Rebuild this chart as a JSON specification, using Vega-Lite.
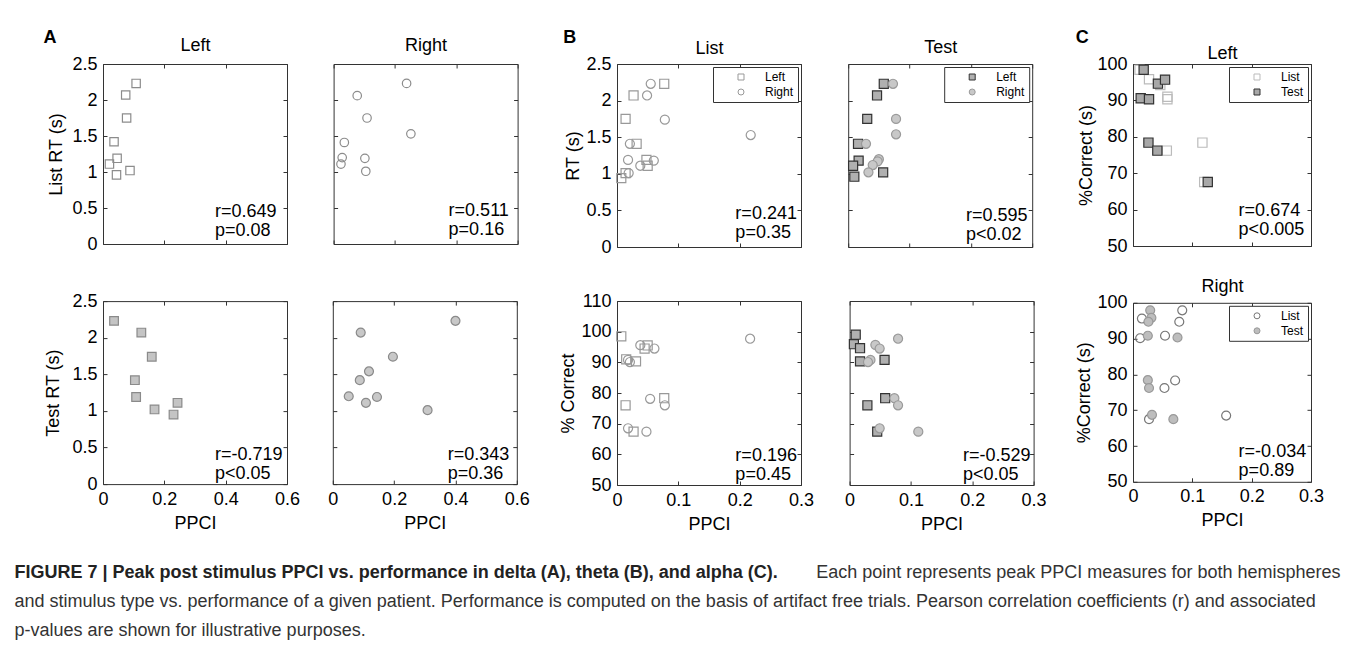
{
  "$schema": "https://vega.github.io/schema/vega-lite/v6.json",
  "background": "white",
  "padding": {"left": 14, "top": 28, "right": 5, "bottom": 2},
  "config": {
    "font": "Liberation Sans",
    "view": {"stroke": "#333", "strokeWidth": 1},
    "axis": {"domain": false, "grid": false, "tickSize": -4, "tickColor": "#333", "tickWidth": 1, "labelFontSize": 18, "labelColor": "#000", "labelFlush": false, "labelOverlap": false, "labelBound": false, "labelPadding": 10, "titleFontSize": 18, "titleFontWeight": "normal", "titleColor": "#000"},
    "title": {"fontSize": 18, "fontWeight": "bold", "color": "#000", "anchor": "start", "frame": "bounds"},
    "legend": {"orient": "top-right", "offset": 3, "strokeColor": "#333", "fillColor": "white", "padding": 4, "rowPadding": 3, "symbolOffset": 18, "labelOffset": 18, "symbolSize": 36, "symbolStrokeWidth": 1, "labelFontSize": 12, "labelColor": "#000"}
  },
  "datasets": {
    "delta": [
      {"cond": "List", "hemi": "Left", "ppci": 0.108, "value": 2.23},
      {"cond": "List", "hemi": "Left", "ppci": 0.074, "value": 2.07},
      {"cond": "List", "hemi": "Left", "ppci": 0.077, "value": 1.75},
      {"cond": "List", "hemi": "Left", "ppci": 0.036, "value": 1.42},
      {"cond": "List", "hemi": "Left", "ppci": 0.046, "value": 1.19},
      {"cond": "List", "hemi": "Left", "ppci": 0.021, "value": 1.11},
      {"cond": "List", "hemi": "Left", "ppci": 0.044, "value": 0.96},
      {"cond": "List", "hemi": "Left", "ppci": 0.088, "value": 1.02},
      {"cond": "List", "hemi": "Right", "ppci": 0.238, "value": 2.23},
      {"cond": "List", "hemi": "Right", "ppci": 0.077, "value": 2.06},
      {"cond": "List", "hemi": "Right", "ppci": 0.109, "value": 1.75},
      {"cond": "List", "hemi": "Right", "ppci": 0.252, "value": 1.53},
      {"cond": "List", "hemi": "Right", "ppci": 0.035, "value": 1.41},
      {"cond": "List", "hemi": "Right", "ppci": 0.028, "value": 1.20},
      {"cond": "List", "hemi": "Right", "ppci": 0.024, "value": 1.11},
      {"cond": "List", "hemi": "Right", "ppci": 0.102, "value": 1.19},
      {"cond": "List", "hemi": "Right", "ppci": 0.105, "value": 1.01},
      {"cond": "Test", "hemi": "Left", "ppci": 0.036, "value": 2.23},
      {"cond": "Test", "hemi": "Left", "ppci": 0.125, "value": 2.07},
      {"cond": "Test", "hemi": "Left", "ppci": 0.159, "value": 1.74},
      {"cond": "Test", "hemi": "Left", "ppci": 0.104, "value": 1.42},
      {"cond": "Test", "hemi": "Left", "ppci": 0.108, "value": 1.19},
      {"cond": "Test", "hemi": "Left", "ppci": 0.168, "value": 1.02},
      {"cond": "Test", "hemi": "Left", "ppci": 0.230, "value": 0.95},
      {"cond": "Test", "hemi": "Left", "ppci": 0.243, "value": 1.11},
      {"cond": "Test", "hemi": "Right", "ppci": 0.400, "value": 2.23},
      {"cond": "Test", "hemi": "Right", "ppci": 0.091, "value": 2.07},
      {"cond": "Test", "hemi": "Right", "ppci": 0.196, "value": 1.74},
      {"cond": "Test", "hemi": "Right", "ppci": 0.118, "value": 1.54},
      {"cond": "Test", "hemi": "Right", "ppci": 0.088, "value": 1.42},
      {"cond": "Test", "hemi": "Right", "ppci": 0.052, "value": 1.20},
      {"cond": "Test", "hemi": "Right", "ppci": 0.144, "value": 1.19},
      {"cond": "Test", "hemi": "Right", "ppci": 0.108, "value": 1.11},
      {"cond": "Test", "hemi": "Right", "ppci": 0.309, "value": 1.01}
    ],
    "thetaRT": [
      {"cond": "List", "hemi": "Left", "ppci": 0.077, "value": 2.23},
      {"cond": "List", "hemi": "Left", "ppci": 0.027, "value": 2.07},
      {"cond": "List", "hemi": "Left", "ppci": 0.014, "value": 1.75},
      {"cond": "List", "hemi": "Left", "ppci": 0.032, "value": 1.41},
      {"cond": "List", "hemi": "Left", "ppci": 0.048, "value": 1.19},
      {"cond": "List", "hemi": "Left", "ppci": 0.050, "value": 1.11},
      {"cond": "List", "hemi": "Left", "ppci": 0.007, "value": 0.94},
      {"cond": "List", "hemi": "Left", "ppci": 0.014, "value": 1.01},
      {"cond": "List", "hemi": "Right", "ppci": 0.055, "value": 2.23},
      {"cond": "List", "hemi": "Right", "ppci": 0.049, "value": 2.07},
      {"cond": "List", "hemi": "Right", "ppci": 0.078, "value": 1.74},
      {"cond": "List", "hemi": "Right", "ppci": 0.218, "value": 1.53},
      {"cond": "List", "hemi": "Right", "ppci": 0.021, "value": 1.41},
      {"cond": "List", "hemi": "Right", "ppci": 0.018, "value": 1.19},
      {"cond": "List", "hemi": "Right", "ppci": 0.060, "value": 1.18},
      {"cond": "List", "hemi": "Right", "ppci": 0.038, "value": 1.11},
      {"cond": "List", "hemi": "Right", "ppci": 0.019, "value": 1.01},
      {"cond": "Test", "hemi": "Left", "ppci": 0.058, "value": 2.23},
      {"cond": "Test", "hemi": "Left", "ppci": 0.047, "value": 2.07},
      {"cond": "Test", "hemi": "Left", "ppci": 0.031, "value": 1.75},
      {"cond": "Test", "hemi": "Left", "ppci": 0.016, "value": 1.41},
      {"cond": "Test", "hemi": "Left", "ppci": 0.017, "value": 1.18},
      {"cond": "Test", "hemi": "Left", "ppci": 0.008, "value": 1.11},
      {"cond": "Test", "hemi": "Left", "ppci": 0.010, "value": 0.96},
      {"cond": "Test", "hemi": "Left", "ppci": 0.057, "value": 1.02},
      {"cond": "Test", "hemi": "Right", "ppci": 0.073, "value": 2.23},
      {"cond": "Test", "hemi": "Right", "ppci": 0.078, "value": 1.75},
      {"cond": "Test", "hemi": "Right", "ppci": 0.078, "value": 1.54},
      {"cond": "Test", "hemi": "Right", "ppci": 0.029, "value": 1.41},
      {"cond": "Test", "hemi": "Right", "ppci": 0.050, "value": 1.20},
      {"cond": "Test", "hemi": "Right", "ppci": 0.048, "value": 1.17},
      {"cond": "Test", "hemi": "Right", "ppci": 0.040, "value": 1.12},
      {"cond": "Test", "hemi": "Right", "ppci": 0.033, "value": 1.02}
    ],
    "thetaCorrect": [
      {"cond": "List", "hemi": "Left", "ppci": 0.007, "value": 98.5},
      {"cond": "List", "hemi": "Left", "ppci": 0.050, "value": 95.5},
      {"cond": "List", "hemi": "Left", "ppci": 0.045, "value": 94.5},
      {"cond": "List", "hemi": "Left", "ppci": 0.015, "value": 91.0},
      {"cond": "List", "hemi": "Left", "ppci": 0.031, "value": 90.3},
      {"cond": "List", "hemi": "Left", "ppci": 0.077, "value": 78.3},
      {"cond": "List", "hemi": "Left", "ppci": 0.014, "value": 76.0},
      {"cond": "List", "hemi": "Left", "ppci": 0.027, "value": 67.4},
      {"cond": "List", "hemi": "Right", "ppci": 0.217, "value": 97.7},
      {"cond": "List", "hemi": "Right", "ppci": 0.038, "value": 95.6},
      {"cond": "List", "hemi": "Right", "ppci": 0.061, "value": 94.5},
      {"cond": "List", "hemi": "Right", "ppci": 0.018, "value": 90.8},
      {"cond": "List", "hemi": "Right", "ppci": 0.021, "value": 90.1},
      {"cond": "List", "hemi": "Right", "ppci": 0.054, "value": 78.1},
      {"cond": "List", "hemi": "Right", "ppci": 0.078, "value": 76.0},
      {"cond": "List", "hemi": "Right", "ppci": 0.018, "value": 68.5},
      {"cond": "List", "hemi": "Right", "ppci": 0.048, "value": 67.4},
      {"cond": "Test", "hemi": "Left", "ppci": 0.010, "value": 99.0},
      {"cond": "Test", "hemi": "Left", "ppci": 0.007, "value": 95.9},
      {"cond": "Test", "hemi": "Left", "ppci": 0.017, "value": 94.6},
      {"cond": "Test", "hemi": "Left", "ppci": 0.017, "value": 90.3},
      {"cond": "Test", "hemi": "Left", "ppci": 0.057, "value": 90.8},
      {"cond": "Test", "hemi": "Left", "ppci": 0.058, "value": 78.3},
      {"cond": "Test", "hemi": "Left", "ppci": 0.029, "value": 76.0},
      {"cond": "Test", "hemi": "Left", "ppci": 0.045, "value": 67.4},
      {"cond": "Test", "hemi": "Right", "ppci": 0.079, "value": 97.7},
      {"cond": "Test", "hemi": "Right", "ppci": 0.042, "value": 95.7},
      {"cond": "Test", "hemi": "Right", "ppci": 0.049, "value": 94.5},
      {"cond": "Test", "hemi": "Right", "ppci": 0.034, "value": 90.8},
      {"cond": "Test", "hemi": "Right", "ppci": 0.030, "value": 90.1},
      {"cond": "Test", "hemi": "Right", "ppci": 0.073, "value": 78.3},
      {"cond": "Test", "hemi": "Right", "ppci": 0.079, "value": 76.0},
      {"cond": "Test", "hemi": "Right", "ppci": 0.049, "value": 68.5},
      {"cond": "Test", "hemi": "Right", "ppci": 0.112, "value": 67.4}
    ],
    "alpha": [
      {"cond": "List", "hemi": "Left", "ppci": 0.011, "value": 98.4},
      {"cond": "List", "hemi": "Left", "ppci": 0.027, "value": 95.8},
      {"cond": "List", "hemi": "Left", "ppci": 0.046, "value": 94.2},
      {"cond": "List", "hemi": "Left", "ppci": 0.058, "value": 91.0},
      {"cond": "List", "hemi": "Left", "ppci": 0.058, "value": 90.3},
      {"cond": "List", "hemi": "Left", "ppci": 0.057, "value": 76.2},
      {"cond": "List", "hemi": "Left", "ppci": 0.117, "value": 78.4},
      {"cond": "List", "hemi": "Left", "ppci": 0.120, "value": 67.6},
      {"cond": "Test", "hemi": "Left", "ppci": 0.018, "value": 98.4},
      {"cond": "Test", "hemi": "Left", "ppci": 0.042, "value": 94.6},
      {"cond": "Test", "hemi": "Left", "ppci": 0.054, "value": 95.7},
      {"cond": "Test", "hemi": "Left", "ppci": 0.013, "value": 90.6},
      {"cond": "Test", "hemi": "Left", "ppci": 0.027, "value": 90.3},
      {"cond": "Test", "hemi": "Left", "ppci": 0.026, "value": 78.4},
      {"cond": "Test", "hemi": "Left", "ppci": 0.041, "value": 76.2},
      {"cond": "Test", "hemi": "Left", "ppci": 0.126, "value": 67.6},
      {"cond": "List", "hemi": "Right", "ppci": 0.015, "value": 95.6},
      {"cond": "List", "hemi": "Right", "ppci": 0.012, "value": 90.1},
      {"cond": "List", "hemi": "Right", "ppci": 0.083, "value": 97.9},
      {"cond": "List", "hemi": "Right", "ppci": 0.078, "value": 94.7},
      {"cond": "List", "hemi": "Right", "ppci": 0.054, "value": 90.8},
      {"cond": "List", "hemi": "Right", "ppci": 0.071, "value": 78.3},
      {"cond": "List", "hemi": "Right", "ppci": 0.053, "value": 76.2},
      {"cond": "List", "hemi": "Right", "ppci": 0.157, "value": 68.5},
      {"cond": "List", "hemi": "Right", "ppci": 0.027, "value": 67.5},
      {"cond": "Test", "hemi": "Right", "ppci": 0.029, "value": 97.9},
      {"cond": "Test", "hemi": "Right", "ppci": 0.031, "value": 95.8},
      {"cond": "Test", "hemi": "Right", "ppci": 0.026, "value": 94.7},
      {"cond": "Test", "hemi": "Right", "ppci": 0.025, "value": 90.8},
      {"cond": "Test", "hemi": "Right", "ppci": 0.075, "value": 90.3},
      {"cond": "Test", "hemi": "Right", "ppci": 0.025, "value": 78.4},
      {"cond": "Test", "hemi": "Right", "ppci": 0.027, "value": 76.2},
      {"cond": "Test", "hemi": "Right", "ppci": 0.032, "value": 68.7},
      {"cond": "Test", "hemi": "Right", "ppci": 0.068, "value": 67.5}
    ],
    "caption": [
      {"line": 1, "part": "heading", "text": "FIGURE 7 | Peak post stimulus PPCI vs. performance in delta (A), theta (B), and alpha (C)."},
      {"line": 1, "part": "continuation", "text": "Each point represents peak PPCI measures for both hemispheres"},
      {"line": 2, "part": "body", "text": "and stimulus type vs. performance of a given patient. Performance is computed on the basis of artifact free trials. Pearson correlation coefficients (r) and associated"},
      {"line": 3, "part": "body", "text": "p-values are shown for illustrative purposes."}
    ]
  },
  "resolve": {"scale": {"shape": "independent", "fill": "independent", "stroke": "independent"}},
  "bounds": "flush",
  "spacing": 509,
  "vconcat": [
    {
      "resolve": {"scale": {"shape": "independent", "fill": "independent", "stroke": "independent"}},
      "spacing": 28,
      "hconcat": [
        {
          "spacing": 37.1,
          "vconcat": [
            {
              "spacing": 44.6,
              "hconcat": [
                {
                  "width": 184, "height": 180,
                  "title": {"text": "A", "offset": -10.5, "dx": -4},
                  "layer": [
                    {"data": {"name": "delta"}, "transform": [{"filter": "datum.cond === 'List' && datum.hemi === 'Left'"}],
                     "mark": {"type": "point", "shape": "square", "filled": false, "stroke": "#8c8c8c", "strokeWidth": 1.2, "size": 70, "opacity": 1},
                     "encoding": {
                       "x": {"field": "ppci", "type": "quantitative", "scale": {"domain": [0, 0.6], "nice": false, "zero": false}, "axis": {"values": [0, 0.2, 0.4, 0.6], "labels": false, "title": null, "minExtent": 0, "maxExtent": 0}},
                       "y": {"field": "value", "type": "quantitative", "scale": {"domain": [0, 2.5], "nice": false, "zero": false}, "axis": {"values": [0, 0.5, 1, 1.5, 2, 2.5], "format": "~f", "title": "List RT (s)", "minExtent": 31, "maxExtent": 31, "titlePadding": 6.5}}
                     }},
                    {"data": {"values": [{"stat": "r=0.649\np=0.08"}]},
                     "mark": {"type": "text", "align": "left", "baseline": "top", "fontSize": 18, "lineHeight": 19, "lineBreak": "\n", "color": "#000"},
                     "encoding": {
                       "x": {"datum": 0.365, "type": "quantitative", "scale": {"domain": [0, 0.6], "nice": false, "zero": false}, "axis": {"orient": "top", "values": [0, 0.2, 0.4, 0.6], "labels": false, "title": "Left", "titlePadding": 9.8, "minExtent": 0, "maxExtent": 0}},
                       "y": {"datum": 0.576, "type": "quantitative", "scale": {"domain": [0, 2.5], "nice": false, "zero": false}, "axis": {"orient": "right", "values": [0, 0.5, 1, 1.5, 2, 2.5], "labels": false, "title": null, "minExtent": 0, "maxExtent": 0}},
                       "text": {"field": "stat"}
                     }}
                  ],
                  "resolve": {"axis": {"x": "independent", "y": "independent"}}
                },
                {
                  "width": 184, "height": 180,
                  "layer": [
                    {"data": {"name": "delta"}, "transform": [{"filter": "datum.cond === 'List' && datum.hemi === 'Right'"}],
                     "mark": {"type": "point", "shape": "circle", "filled": false, "stroke": "#8c8c8c", "strokeWidth": 1.2, "size": 72, "opacity": 1},
                     "encoding": {
                       "x": {"field": "ppci", "type": "quantitative", "scale": {"domain": [0, 0.6], "nice": false, "zero": false}, "axis": {"values": [0, 0.2, 0.4, 0.6], "labels": false, "title": null, "minExtent": 0, "maxExtent": 0}},
                       "y": {"field": "value", "type": "quantitative", "scale": {"domain": [0, 2.5], "nice": false, "zero": false}, "axis": {"values": [0, 0.5, 1, 1.5, 2, 2.5], "labels": false, "title": null, "minExtent": 0, "maxExtent": 0}}
                     }},
                    {"data": {"values": [{"stat": "r=0.511\np=0.16"}]},
                     "mark": {"type": "text", "align": "left", "baseline": "top", "fontSize": 18, "lineHeight": 19, "lineBreak": "\n", "color": "#000"},
                     "encoding": {
                       "x": {"datum": 0.375, "type": "quantitative", "scale": {"domain": [0, 0.6], "nice": false, "zero": false}, "axis": {"orient": "top", "values": [0, 0.2, 0.4, 0.6], "labels": false, "title": "Right", "titlePadding": 9.8, "minExtent": 0, "maxExtent": 0}},
                       "y": {"datum": 0.59, "type": "quantitative", "scale": {"domain": [0, 2.5], "nice": false, "zero": false}, "axis": {"orient": "right", "values": [0, 0.5, 1, 1.5, 2, 2.5], "labels": false, "title": null, "minExtent": 0, "maxExtent": 0}},
                       "text": {"field": "stat"}
                     }}
                  ],
                  "resolve": {"axis": {"x": "independent", "y": "independent"}}
                }
              ]
            },
            {
              "spacing": 25.8,
              "hconcat": [
                {
                  "width": 184, "height": 183,
                  "layer": [
                    {"data": {"name": "delta"}, "transform": [{"filter": "datum.cond === 'Test' && datum.hemi === 'Left'"}],
                     "mark": {"type": "point", "shape": "square", "filled": true, "fill": "#c4c4c4", "stroke": "#8a8a8a", "strokeWidth": 1.2, "size": 75, "opacity": 1},
                     "encoding": {
                       "x": {"field": "ppci", "type": "quantitative", "scale": {"domain": [0, 0.6], "nice": false, "zero": false}, "axis": {"values": [0, 0.2, 0.4, 0.6], "format": "~f", "title": "PPCI", "titlePadding": 6}},
                       "y": {"field": "value", "type": "quantitative", "scale": {"domain": [0, 2.5], "nice": false, "zero": false}, "axis": {"values": [0, 0.5, 1, 1.5, 2, 2.5], "format": "~f", "title": "Test RT (s)", "minExtent": 31, "maxExtent": 31, "titlePadding": 9.2}}
                     }},
                    {"data": {"values": [{"stat": "r=-0.719\np<0.05"}]},
                     "mark": {"type": "text", "align": "left", "baseline": "top", "fontSize": 18, "lineHeight": 19, "lineBreak": "\n", "color": "#000"},
                     "encoding": {
                       "x": {"datum": 0.365, "type": "quantitative", "scale": {"domain": [0, 0.6], "nice": false, "zero": false}, "axis": {"orient": "top", "values": [0, 0.2, 0.4, 0.6], "labels": false, "title": null, "minExtent": 0, "maxExtent": 0}},
                       "y": {"datum": 0.516, "type": "quantitative", "scale": {"domain": [0, 2.5], "nice": false, "zero": false}, "axis": {"orient": "right", "values": [0, 0.5, 1, 1.5, 2, 2.5], "labels": false, "title": null, "minExtent": 0, "maxExtent": 0}},
                       "text": {"field": "stat"}
                     }}
                  ],
                  "resolve": {"axis": {"x": "independent", "y": "independent"}}
                },
                {
                  "width": 184, "height": 183,
                  "layer": [
                    {"data": {"name": "delta"}, "transform": [{"filter": "datum.cond === 'Test' && datum.hemi === 'Right'"}],
                     "mark": {"type": "point", "shape": "circle", "filled": true, "fill": "#c8c8c8", "stroke": "#8a8a8a", "strokeWidth": 1.2, "size": 80, "opacity": 1},
                     "encoding": {
                       "x": {"field": "ppci", "type": "quantitative", "scale": {"domain": [0, 0.6], "nice": false, "zero": false}, "axis": {"values": [0, 0.2, 0.4, 0.6], "format": "~f", "title": "PPCI", "titlePadding": 6}},
                       "y": {"field": "value", "type": "quantitative", "scale": {"domain": [0, 2.5], "nice": false, "zero": false}, "axis": {"values": [0, 0.5, 1, 1.5, 2, 2.5], "labels": false, "title": null, "minExtent": 0, "maxExtent": 0}}
                     }},
                    {"data": {"values": [{"stat": "r=0.343\np=0.36"}]},
                     "mark": {"type": "text", "align": "left", "baseline": "top", "fontSize": 18, "lineHeight": 19, "lineBreak": "\n", "color": "#000"},
                     "encoding": {
                       "x": {"datum": 0.375, "type": "quantitative", "scale": {"domain": [0, 0.6], "nice": false, "zero": false}, "axis": {"orient": "top", "values": [0, 0.2, 0.4, 0.6], "labels": false, "title": null, "minExtent": 0, "maxExtent": 0}},
                       "y": {"datum": 0.527, "type": "quantitative", "scale": {"domain": [0, 2.5], "nice": false, "zero": false}, "axis": {"orient": "right", "values": [0, 0.5, 1, 1.5, 2, 2.5], "labels": false, "title": null, "minExtent": 0, "maxExtent": 0}},
                       "text": {"field": "stat"}
                     }}
                  ],
                  "resolve": {"axis": {"x": "independent", "y": "independent"}}
                }
              ]
            }
          ]
        },
        {
          "spacing": 34,
          "resolve": {"scale": {"shape": "independent", "fill": "independent", "stroke": "independent"}},
          "vconcat": [
            {
              "spacing": 43.2,
              "resolve": {"scale": {"shape": "independent", "fill": "independent", "stroke": "independent"}},
              "hconcat": [
                {
                  "width": 184, "height": 183,
                  "title": {"text": "B", "offset": -6.8, "dx": -1},
                  "layer": [
                    {"data": {"name": "thetaRT"}, "transform": [{"filter": "datum.cond === 'List'"}],
                     "mark": {"type": "point", "strokeWidth": 1.2, "size": 82, "opacity": 1},
                     "encoding": {
                       "x": {"field": "ppci", "type": "quantitative", "scale": {"domain": [0, 0.3], "nice": false, "zero": false}, "axis": {"values": [0, 0.1, 0.2, 0.3], "labels": false, "title": null, "minExtent": 0, "maxExtent": 0}},
                       "y": {"field": "value", "type": "quantitative", "scale": {"domain": [0, 2.5], "nice": false, "zero": false}, "axis": {"values": [0, 0.5, 1, 1.5, 2, 2.5], "format": "~f", "title": "RT (s)", "minExtent": 30, "maxExtent": 30, "titlePadding": 4.7}},
                       "shape": {"field": "hemi", "type": "nominal", "scale": {"domain": ["Left", "Right"], "range": ["square", "circle"]}, "legend": {"title": null}},
                       "fill": {"field": "hemi", "type": "nominal", "scale": {"domain": ["Left", "Right"], "range": ["#ffffff00", "#ffffff00"]}, "legend": {"title": null}},
                       "stroke": {"field": "hemi", "type": "nominal", "scale": {"domain": ["Left", "Right"], "range": ["#999999", "#999999"]}, "legend": {"title": null}}
                     }},
                    {"data": {"values": [{"stat": "r=0.241\np=0.35"}]},
                     "mark": {"type": "text", "align": "left", "baseline": "top", "fontSize": 18, "lineHeight": 19, "lineBreak": "\n", "color": "#000"},
                     "encoding": {
                       "x": {"datum": 0.193, "type": "quantitative", "scale": {"domain": [0, 0.3], "nice": false, "zero": false}, "axis": {"orient": "top", "values": [0, 0.1, 0.2, 0.3], "labels": false, "title": "List", "titlePadding": 6.1, "minExtent": 0, "maxExtent": 0}},
                       "y": {"datum": 0.575, "type": "quantitative", "scale": {"domain": [0, 2.5], "nice": false, "zero": false}, "axis": {"orient": "right", "values": [0, 0.5, 1, 1.5, 2, 2.5], "labels": false, "title": null, "minExtent": 0, "maxExtent": 0}},
                       "text": {"field": "stat"}
                     }}
                  ],
                  "resolve": {"axis": {"x": "independent", "y": "independent"}}
                },
                {
                  "width": 184, "height": 183,
                  "layer": [
                    {"data": {"name": "thetaRT"}, "transform": [{"filter": "datum.cond === 'Test'"}],
                     "mark": {"type": "point", "strokeWidth": 1.2, "size": 82, "opacity": 1},
                     "encoding": {
                       "x": {"field": "ppci", "type": "quantitative", "scale": {"domain": [0, 0.3], "nice": false, "zero": false}, "axis": {"values": [0, 0.1, 0.2, 0.3], "labels": false, "title": null, "minExtent": 0, "maxExtent": 0}},
                       "y": {"field": "value", "type": "quantitative", "scale": {"domain": [0, 2.5], "nice": false, "zero": false}, "axis": {"values": [0, 0.5, 1, 1.5, 2, 2.5], "labels": false, "title": null, "minExtent": 0, "maxExtent": 0}},
                       "shape": {"field": "hemi", "type": "nominal", "scale": {"domain": ["Left", "Right"], "range": ["square", "circle"]}, "legend": {"title": null}},
                       "fill": {"field": "hemi", "type": "nominal", "scale": {"domain": ["Left", "Right"], "range": ["#b0b0b0", "#c8c8c8"]}, "legend": {"title": null}},
                       "stroke": {"field": "hemi", "type": "nominal", "scale": {"domain": ["Left", "Right"], "range": ["#333333", "#9a9a9a"]}, "legend": {"title": null}}
                     }},
                    {"data": {"values": [{"stat": "r=0.595\np<0.02"}]},
                     "mark": {"type": "text", "align": "left", "baseline": "top", "fontSize": 18, "lineHeight": 19, "lineBreak": "\n", "color": "#000"},
                     "encoding": {
                       "x": {"datum": 0.192, "type": "quantitative", "scale": {"domain": [0, 0.3], "nice": false, "zero": false}, "axis": {"orient": "top", "values": [0, 0.1, 0.2, 0.3], "labels": false, "title": "Test", "titlePadding": 7.8, "minExtent": 0, "maxExtent": 0}},
                       "y": {"datum": 0.553, "type": "quantitative", "scale": {"domain": [0, 2.5], "nice": false, "zero": false}, "axis": {"orient": "right", "values": [0, 0.5, 1, 1.5, 2, 2.5], "labels": false, "title": null, "minExtent": 0, "maxExtent": 0}},
                       "text": {"field": "stat"}
                     }}
                  ],
                  "resolve": {"axis": {"x": "independent", "y": "independent"}}
                }
              ]
            },
            {
              "spacing": 28.6,
              "resolve": {"scale": {"shape": "independent", "fill": "independent", "stroke": "independent"}},
              "hconcat": [
                {
                  "width": 184, "height": 184,
                  "layer": [
                    {"data": {"name": "thetaCorrect"}, "transform": [{"filter": "datum.cond === 'List'"}],
                     "mark": {"type": "point", "strokeWidth": 1.2, "size": 82, "opacity": 1},
                     "encoding": {
                       "x": {"field": "ppci", "type": "quantitative", "scale": {"domain": [0, 0.3], "nice": false, "zero": false}, "axis": {"values": [0, 0.1, 0.2, 0.3], "format": "~f", "title": "PPCI", "titlePadding": 6}},
                       "y": {"field": "value", "type": "quantitative", "scale": {"domain": [50, 110], "nice": false, "zero": false}, "axis": {"values": [50, 60, 70, 80, 90, 100, 110], "format": "~f", "title": "% Correct", "minExtent": 36, "maxExtent": 36, "titlePadding": 4}},
                       "shape": {"field": "hemi", "type": "nominal", "scale": {"domain": ["Left", "Right"], "range": ["square", "circle"]}, "legend": null},
                       "fill": {"field": "hemi", "type": "nominal", "scale": {"domain": ["Left", "Right"], "range": ["#ffffff00", "#ffffff00"]}, "legend": null},
                       "stroke": {"field": "hemi", "type": "nominal", "scale": {"domain": ["Left", "Right"], "range": ["#999999", "#999999"]}, "legend": null}
                     }},
                    {"data": {"values": [{"stat": "r=0.196\np=0.45"}]},
                     "mark": {"type": "text", "align": "left", "baseline": "top", "fontSize": 18, "lineHeight": 19, "lineBreak": "\n", "color": "#000"},
                     "encoding": {
                       "x": {"datum": 0.193, "type": "quantitative", "scale": {"domain": [0, 0.3], "nice": false, "zero": false}, "axis": {"orient": "top", "values": [0, 0.1, 0.2, 0.3], "labels": false, "title": null, "minExtent": 0, "maxExtent": 0}},
                       "y": {"datum": 62.5, "type": "quantitative", "scale": {"domain": [50, 110], "nice": false, "zero": false}, "axis": {"orient": "right", "values": [50, 60, 70, 80, 90, 100, 110], "labels": false, "title": null, "minExtent": 0, "maxExtent": 0}},
                       "text": {"field": "stat"}
                     }}
                  ],
                  "resolve": {"axis": {"x": "independent", "y": "independent"}}
                },
                {
                  "width": 184, "height": 184,
                  "layer": [
                    {"data": {"name": "thetaCorrect"}, "transform": [{"filter": "datum.cond === 'Test'"}],
                     "mark": {"type": "point", "strokeWidth": 1.2, "size": 82, "opacity": 1},
                     "encoding": {
                       "x": {"field": "ppci", "type": "quantitative", "scale": {"domain": [0, 0.3], "nice": false, "zero": false}, "axis": {"values": [0, 0.1, 0.2, 0.3], "format": "~f", "title": "PPCI", "titlePadding": 6}},
                       "y": {"field": "value", "type": "quantitative", "scale": {"domain": [50, 110], "nice": false, "zero": false}, "axis": {"values": [50, 60, 70, 80, 90, 100, 110], "labels": false, "title": null, "minExtent": 0, "maxExtent": 0}},
                       "shape": {"field": "hemi", "type": "nominal", "scale": {"domain": ["Left", "Right"], "range": ["square", "circle"]}, "legend": null},
                       "fill": {"field": "hemi", "type": "nominal", "scale": {"domain": ["Left", "Right"], "range": ["#b0b0b0", "#c8c8c8"]}, "legend": null},
                       "stroke": {"field": "hemi", "type": "nominal", "scale": {"domain": ["Left", "Right"], "range": ["#333333", "#9a9a9a"]}, "legend": null}
                     }},
                    {"data": {"values": [{"stat": "r=-0.529\np<0.05"}]},
                     "mark": {"type": "text", "align": "left", "baseline": "top", "fontSize": 18, "lineHeight": 19, "lineBreak": "\n", "color": "#000"},
                     "encoding": {
                       "x": {"datum": 0.185, "type": "quantitative", "scale": {"domain": [0, 0.3], "nice": false, "zero": false}, "axis": {"orient": "top", "values": [0, 0.1, 0.2, 0.3], "labels": false, "title": null, "minExtent": 0, "maxExtent": 0}},
                       "y": {"datum": 62.5, "type": "quantitative", "scale": {"domain": [50, 110], "nice": false, "zero": false}, "axis": {"orient": "right", "values": [50, 60, 70, 80, 90, 100, 110], "labels": false, "title": null, "minExtent": 0, "maxExtent": 0}},
                       "text": {"field": "stat"}
                     }}
                  ],
                  "resolve": {"axis": {"x": "independent", "y": "independent"}}
                }
              ]
            }
          ]
        },
        {
          "spacing": 20.8,
          "resolve": {"scale": {"shape": "independent", "fill": "independent", "stroke": "independent"}},
          "vconcat": [
            {
              "width": 178, "height": 182,
              "title": {"text": "C", "offset": -1.8, "dx": -1.7},
              "layer": [
                {"data": {"name": "alpha"}, "transform": [{"filter": "datum.hemi === 'Left'"}],
                 "mark": {"type": "point", "shape": "square", "strokeWidth": 1.2, "size": 85, "opacity": 1},
                 "encoding": {
                   "x": {"field": "ppci", "type": "quantitative", "scale": {"domain": [0, 0.3], "nice": false, "zero": false}, "axis": {"values": [0, 0.1, 0.2, 0.3], "labels": false, "title": null, "minExtent": 0, "maxExtent": 0}},
                   "y": {"field": "value", "type": "quantitative", "scale": {"domain": [50, 100], "nice": false, "zero": false}, "axis": {"values": [50, 60, 70, 80, 90, 100], "format": "~f", "title": "%Correct (s)", "minExtent": 36, "maxExtent": 36, "titlePadding": 1.5}},
                   "fill": {"field": "cond", "type": "nominal", "scale": {"domain": ["List", "Test"], "range": ["transparent", "#a8a8a8"]}, "legend": {"title": null, "symbolType": "square"}},
                   "stroke": {"field": "cond", "type": "nominal", "scale": {"domain": ["List", "Test"], "range": ["#bbbbbb", "#333333"]}, "legend": {"title": null, "symbolType": "square"}}
                 }},
                {"data": {"values": [{"stat": "r=0.674\np<0.005"}]},
                 "mark": {"type": "text", "align": "left", "baseline": "top", "fontSize": 18, "lineHeight": 19, "lineBreak": "\n", "color": "#000"},
                 "encoding": {
                   "x": {"datum": 0.178, "type": "quantitative", "scale": {"domain": [0, 0.3], "nice": false, "zero": false}, "axis": {"orient": "top", "values": [0, 0.1, 0.2, 0.3], "labels": false, "title": "Left", "titlePadding": 1.1, "minExtent": 0, "maxExtent": 0}},
                   "y": {"datum": 62.0, "type": "quantitative", "scale": {"domain": [50, 100], "nice": false, "zero": false}, "axis": {"orient": "right", "values": [50, 60, 70, 80, 90, 100], "labels": false, "title": null, "minExtent": 0, "maxExtent": 0}},
                   "text": {"field": "stat"}
                 }}
              ],
              "resolve": {"axis": {"x": "independent", "y": "independent"}}
            },
            {
              "width": 178, "height": 179,
              "layer": [
                {"data": {"name": "alpha"}, "transform": [{"filter": "datum.hemi === 'Right'"}],
                 "mark": {"type": "point", "shape": "circle", "strokeWidth": 1.2, "size": 80, "opacity": 1},
                 "encoding": {
                   "x": {"field": "ppci", "type": "quantitative", "scale": {"domain": [0, 0.3], "nice": false, "zero": false}, "axis": {"values": [0, 0.1, 0.2, 0.3], "format": "~f", "title": "PPCI", "titlePadding": 6}},
                   "y": {"field": "value", "type": "quantitative", "scale": {"domain": [50, 100], "nice": false, "zero": false}, "axis": {"values": [50, 60, 70, 80, 90, 100], "format": "~f", "title": "%Correct (s)", "minExtent": 36, "maxExtent": 36, "titlePadding": 3.2}},
                   "fill": {"field": "cond", "type": "nominal", "scale": {"domain": ["List", "Test"], "range": ["transparent", "#bdbdbd"]}, "legend": {"title": null, "symbolType": "circle"}},
                   "stroke": {"field": "cond", "type": "nominal", "scale": {"domain": ["List", "Test"], "range": ["#777777", "#999999"]}, "legend": {"title": null, "symbolType": "circle"}}
                 }},
                {"data": {"values": [{"stat": "r=-0.034\np=0.89"}]},
                 "mark": {"type": "text", "align": "left", "baseline": "top", "fontSize": 18, "lineHeight": 19, "lineBreak": "\n", "color": "#000"},
                 "encoding": {
                   "x": {"datum": 0.178, "type": "quantitative", "scale": {"domain": [0, 0.3], "nice": false, "zero": false}, "axis": {"orient": "top", "values": [0, 0.1, 0.2, 0.3], "labels": false, "title": "Right", "titlePadding": 7.1, "minExtent": 0, "maxExtent": 0}},
                   "y": {"datum": 60.8, "type": "quantitative", "scale": {"domain": [50, 100], "nice": false, "zero": false}, "axis": {"orient": "right", "values": [50, 60, 70, 80, 90, 100], "labels": false, "title": null, "minExtent": 0, "maxExtent": 0}},
                   "text": {"field": "stat"}
                 }}
              ],
              "resolve": {"axis": {"x": "independent", "y": "independent"}}
            }
          ]
        }
      ]
    },
    {
      "width": 1326, "height": 58,
      "view": {"stroke": null},
      "data": {"name": "caption"},
      "layer": [
        {"transform": [{"filter": "datum.part === 'heading'"}],
         "mark": {"type": "text", "align": "left", "baseline": "middle", "fontSize": 18, "fontWeight": "bold", "color": "#222", "dx": -88.5},
         "encoding": {"y": {"field": "line", "type": "ordinal", "axis": null, "scale": {"type": "point", "padding": 0}}, "x": {"value": 0}, "text": {"field": "text"}}},
        {"transform": [{"filter": "datum.part === 'continuation'"}],
         "mark": {"type": "text", "align": "right", "baseline": "middle", "fontSize": 18, "color": "#333", "dx": -88.5},
         "encoding": {"y": {"field": "line", "type": "ordinal", "axis": null, "scale": {"type": "point", "padding": 0}}, "x": {"value": "width"}, "text": {"field": "text"}}},
        {"transform": [{"filter": "datum.part === 'body'"}],
         "mark": {"type": "text", "align": "left", "baseline": "middle", "fontSize": 18, "color": "#333", "dx": -88.5},
         "encoding": {"y": {"field": "line", "type": "ordinal", "axis": null, "scale": {"type": "point", "padding": 0}}, "x": {"value": 0}, "text": {"field": "text"}}}
      ]
    }
  ]
}
